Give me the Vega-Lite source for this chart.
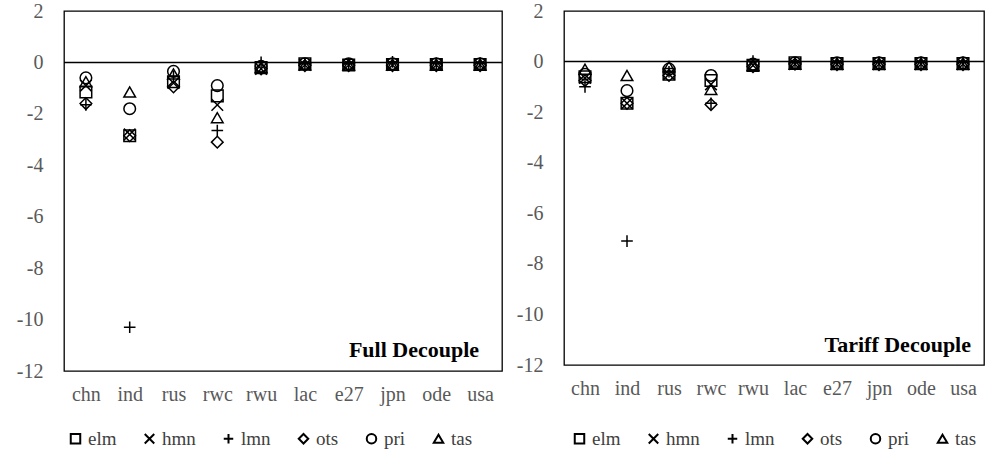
{
  "$schema": "https://vega.github.io/schema/vega-lite/v6.json",
  "background": "white",
  "padding": {"left": 15, "top": 0, "right": 0, "bottom": 0},
  "bounds": "flush",
  "spacing": 62,
  "config": {
    "font": "Liberation Serif",
    "view": {"stroke": "black", "strokeWidth": 1.3},
    "axis": {"labelFont": "Liberation Serif", "labelFontSize": 20, "labelColor": "#595959", "grid": false, "ticks": false, "domain": false, "title": null},
    "legend": {"labelFont": "Liberation Serif", "labelFontSize": 19, "labelColor": "#404040", "symbolStrokeColor": "black", "symbolStrokeWidth": 2, "symbolSize": 90, "direction": "horizontal", "orient": "none", "columnPadding": 23, "labelOffset": 3, "padding": 0, "title": null}
  },
  "resolve": {"scale": {"shape": "independent"}, "legend": {"shape": "independent"}},
  "datasets": {
    "pts": [
      {"sc":"F","r":"chn","s":"elm","v":-1.15},{"sc":"F","r":"chn","s":"hmn","v":-0.9},{"sc":"F","r":"chn","s":"lmn","v":-1.65},{"sc":"F","r":"chn","s":"ots","v":-1.6},{"sc":"F","r":"chn","s":"pri","v":-0.6},{"sc":"F","r":"chn","s":"tas","v":-0.75},
      {"sc":"F","r":"ind","s":"elm","v":-2.85},{"sc":"F","r":"ind","s":"hmn","v":-2.8},{"sc":"F","r":"ind","s":"lmn","v":-10.3},{"sc":"F","r":"ind","s":"ots","v":-2.85},{"sc":"F","r":"ind","s":"pri","v":-1.8},{"sc":"F","r":"ind","s":"tas","v":-1.15},
      {"sc":"F","r":"rus","s":"elm","v":-0.75},{"sc":"F","r":"rus","s":"hmn","v":-0.8},{"sc":"F","r":"rus","s":"lmn","v":-0.55},{"sc":"F","r":"rus","s":"ots","v":-0.95},{"sc":"F","r":"rus","s":"pri","v":-0.35},{"sc":"F","r":"rus","s":"tas","v":-0.45},
      {"sc":"F","r":"rwc","s":"elm","v":-1.3},{"sc":"F","r":"rwc","s":"hmn","v":-1.65},{"sc":"F","r":"rwc","s":"lmn","v":-2.65},{"sc":"F","r":"rwc","s":"ots","v":-3.1},{"sc":"F","r":"rwc","s":"pri","v":-0.9},{"sc":"F","r":"rwc","s":"tas","v":-2.15},
      {"sc":"F","r":"rwu","s":"elm","v":-0.2},{"sc":"F","r":"rwu","s":"hmn","v":-0.25},{"sc":"F","r":"rwu","s":"lmn","v":0.0},{"sc":"F","r":"rwu","s":"ots","v":-0.25},{"sc":"F","r":"rwu","s":"pri","v":-0.15},{"sc":"F","r":"rwu","s":"tas","v":-0.2},
      {"sc":"F","r":"lac","s":"elm","v":-0.05},{"sc":"F","r":"lac","s":"hmn","v":-0.1},{"sc":"F","r":"lac","s":"lmn","v":-0.05},{"sc":"F","r":"lac","s":"ots","v":-0.12},{"sc":"F","r":"lac","s":"pri","v":-0.05},{"sc":"F","r":"lac","s":"tas","v":-0.1},
      {"sc":"F","r":"e27","s":"elm","v":-0.1},{"sc":"F","r":"e27","s":"hmn","v":-0.1},{"sc":"F","r":"e27","s":"lmn","v":-0.05},{"sc":"F","r":"e27","s":"ots","v":-0.12},{"sc":"F","r":"e27","s":"pri","v":-0.05},{"sc":"F","r":"e27","s":"tas","v":-0.1},
      {"sc":"F","r":"jpn","s":"elm","v":-0.08},{"sc":"F","r":"jpn","s":"hmn","v":-0.1},{"sc":"F","r":"jpn","s":"lmn","v":0.02},{"sc":"F","r":"jpn","s":"ots","v":-0.12},{"sc":"F","r":"jpn","s":"pri","v":-0.05},{"sc":"F","r":"jpn","s":"tas","v":-0.1},
      {"sc":"F","r":"ode","s":"elm","v":-0.08},{"sc":"F","r":"ode","s":"hmn","v":-0.1},{"sc":"F","r":"ode","s":"lmn","v":-0.03},{"sc":"F","r":"ode","s":"ots","v":-0.12},{"sc":"F","r":"ode","s":"pri","v":-0.05},{"sc":"F","r":"ode","s":"tas","v":-0.1},
      {"sc":"F","r":"usa","s":"elm","v":-0.08},{"sc":"F","r":"usa","s":"hmn","v":-0.1},{"sc":"F","r":"usa","s":"lmn","v":-0.02},{"sc":"F","r":"usa","s":"ots","v":-0.12},{"sc":"F","r":"usa","s":"pri","v":-0.05},{"sc":"F","r":"usa","s":"tas","v":-0.1},
      {"sc":"T","r":"chn","s":"elm","v":-0.6},{"sc":"T","r":"chn","s":"hmn","v":-0.65},{"sc":"T","r":"chn","s":"lmn","v":-1.0},{"sc":"T","r":"chn","s":"ots","v":-0.75},{"sc":"T","r":"chn","s":"pri","v":-0.5},{"sc":"T","r":"chn","s":"tas","v":-0.3},
      {"sc":"T","r":"ind","s":"elm","v":-1.65},{"sc":"T","r":"ind","s":"hmn","v":-1.65},{"sc":"T","r":"ind","s":"lmn","v":-7.1},{"sc":"T","r":"ind","s":"ots","v":-1.65},{"sc":"T","r":"ind","s":"pri","v":-1.15},{"sc":"T","r":"ind","s":"tas","v":-0.55},
      {"sc":"T","r":"rus","s":"elm","v":-0.5},{"sc":"T","r":"rus","s":"hmn","v":-0.5},{"sc":"T","r":"rus","s":"lmn","v":-0.4},{"sc":"T","r":"rus","s":"ots","v":-0.55},{"sc":"T","r":"rus","s":"pri","v":-0.3},{"sc":"T","r":"rus","s":"tas","v":-0.2},
      {"sc":"T","r":"rwc","s":"elm","v":-0.75},{"sc":"T","r":"rwc","s":"hmn","v":-0.9},{"sc":"T","r":"rwc","s":"lmn","v":-1.65},{"sc":"T","r":"rwc","s":"ots","v":-1.7},{"sc":"T","r":"rwc","s":"pri","v":-0.55},{"sc":"T","r":"rwc","s":"tas","v":-1.1},
      {"sc":"T","r":"rwu","s":"elm","v":-0.15},{"sc":"T","r":"rwu","s":"hmn","v":-0.15},{"sc":"T","r":"rwu","s":"lmn","v":0.02},{"sc":"T","r":"rwu","s":"ots","v":-0.2},{"sc":"T","r":"rwu","s":"pri","v":-0.1},{"sc":"T","r":"rwu","s":"tas","v":-0.15},
      {"sc":"T","r":"lac","s":"elm","v":-0.05},{"sc":"T","r":"lac","s":"hmn","v":-0.1},{"sc":"T","r":"lac","s":"lmn","v":-0.05},{"sc":"T","r":"lac","s":"ots","v":-0.1},{"sc":"T","r":"lac","s":"pri","v":-0.05},{"sc":"T","r":"lac","s":"tas","v":-0.1},
      {"sc":"T","r":"e27","s":"elm","v":-0.08},{"sc":"T","r":"e27","s":"hmn","v":-0.1},{"sc":"T","r":"e27","s":"lmn","v":-0.05},{"sc":"T","r":"e27","s":"ots","v":-0.12},{"sc":"T","r":"e27","s":"pri","v":-0.05},{"sc":"T","r":"e27","s":"tas","v":-0.1},
      {"sc":"T","r":"jpn","s":"elm","v":-0.08},{"sc":"T","r":"jpn","s":"hmn","v":-0.1},{"sc":"T","r":"jpn","s":"lmn","v":-0.03},{"sc":"T","r":"jpn","s":"ots","v":-0.12},{"sc":"T","r":"jpn","s":"pri","v":-0.05},{"sc":"T","r":"jpn","s":"tas","v":-0.1},
      {"sc":"T","r":"ode","s":"elm","v":-0.08},{"sc":"T","r":"ode","s":"hmn","v":-0.1},{"sc":"T","r":"ode","s":"lmn","v":-0.03},{"sc":"T","r":"ode","s":"ots","v":-0.12},{"sc":"T","r":"ode","s":"pri","v":-0.05},{"sc":"T","r":"ode","s":"tas","v":-0.1},
      {"sc":"T","r":"usa","s":"elm","v":-0.08},{"sc":"T","r":"usa","s":"hmn","v":-0.1},{"sc":"T","r":"usa","s":"lmn","v":-0.03},{"sc":"T","r":"usa","s":"ots","v":-0.12},{"sc":"T","r":"usa","s":"pri","v":-0.05},{"sc":"T","r":"usa","s":"tas","v":-0.1}
    ]
  },
  "hconcat": [
    {
      "width": 438,
      "height": 360,
      "layer": [
        {
          "data": {"values": [{}]},
          "mark": {"type": "rule", "stroke": "black", "strokeWidth": 1.5},
          "encoding": {"y": {"datum": 0, "type": "quantitative"}}
        },
        {
          "data": {"name": "pts"},
          "transform": [{"filter": "datum.sc === 'F'"}],
          "mark": {"type": "point", "filled": false, "stroke": "black", "strokeWidth": 1.5, "size": 135, "opacity": 1},
          "encoding": {
            "x": {"field": "r", "type": "nominal", "sort": ["chn","ind","rus","rwc","rwu","lac","e27","jpn","ode","usa"], "axis": {"orient": "bottom", "labelPadding": 13, "labelAngle": 0}},
            "y": {"field": "v", "type": "quantitative", "scale": {"domain": [-12, 2], "nice": false, "zero": false}, "axis": {"values": [2,0,-2,-4,-6,-8,-10,-12], "labelPadding": 21, "labelExpr": "'' + datum.value"}},
            "shape": {"field": "s", "type": "nominal", "scale": {"domain": ["elm","hmn","lmn","ots","pri","tas"], "range": ["square", "M-1,-1L1,1M-1,1L1,-1", "M-1,0L1,0M0,-1L0,1", "diamond", "circle", "triangle-up"]}, "legend": {"legendX": 2, "legendY": 418, "labelFont": "Liberation Serif", "labelFontSize": 19, "labelColor": "#404040"}}
          }
        },
        {
          "data": {"values": [{"label": "Full Decouple"}]},
          "mark": {"type": "text", "align": "right", "baseline": "middle", "font": "Liberation Serif", "fontWeight": "bold", "fontSize": 22, "color": "black", "dx": -1},
          "encoding": {"x": {"datum": "usa", "type": "nominal"}, "y": {"datum": -11.2, "type": "quantitative"}, "text": {"field": "label"}}
        }
      ]
    },
    {
      "width": 420,
      "height": 354,
      "layer": [
        {
          "data": {"values": [{}]},
          "mark": {"type": "rule", "stroke": "black", "strokeWidth": 1.5},
          "encoding": {"y": {"datum": 0, "type": "quantitative"}}
        },
        {
          "data": {"name": "pts"},
          "transform": [{"filter": "datum.sc === 'T'"}],
          "mark": {"type": "point", "filled": false, "stroke": "black", "strokeWidth": 1.5, "size": 135, "opacity": 1},
          "encoding": {
            "x": {"field": "r", "type": "nominal", "sort": ["chn","ind","rus","rwc","rwu","lac","e27","jpn","ode","usa"], "axis": {"orient": "bottom", "labelPadding": 13, "labelAngle": 0}},
            "y": {"field": "v", "type": "quantitative", "scale": {"domain": [-12, 2], "nice": false, "zero": false}, "axis": {"values": [2,0,-2,-4,-6,-8,-10,-12], "labelPadding": 21, "labelExpr": "'' + datum.value"}},
            "shape": {"field": "s", "type": "nominal", "scale": {"domain": ["elm","hmn","lmn","ots","pri","tas"], "range": ["square", "M-1,-1L1,1M-1,1L1,-1", "M-1,0L1,0M0,-1L0,1", "diamond", "circle", "triangle-up"]}, "legend": {"legendX": 6, "legendY": 418, "labelFont": "Liberation Serif", "labelFontSize": 19, "labelColor": "#404040"}}
          }
        },
        {
          "data": {"values": [{"label": "Tariff Decouple"}]},
          "mark": {"type": "text", "align": "right", "baseline": "middle", "font": "Liberation Serif", "fontWeight": "bold", "fontSize": 22, "color": "black", "dx": 8},
          "encoding": {"x": {"datum": "usa", "type": "nominal"}, "y": {"datum": -11.2, "type": "quantitative"}, "text": {"field": "label"}}
        }
      ]
    }
  ]
}
